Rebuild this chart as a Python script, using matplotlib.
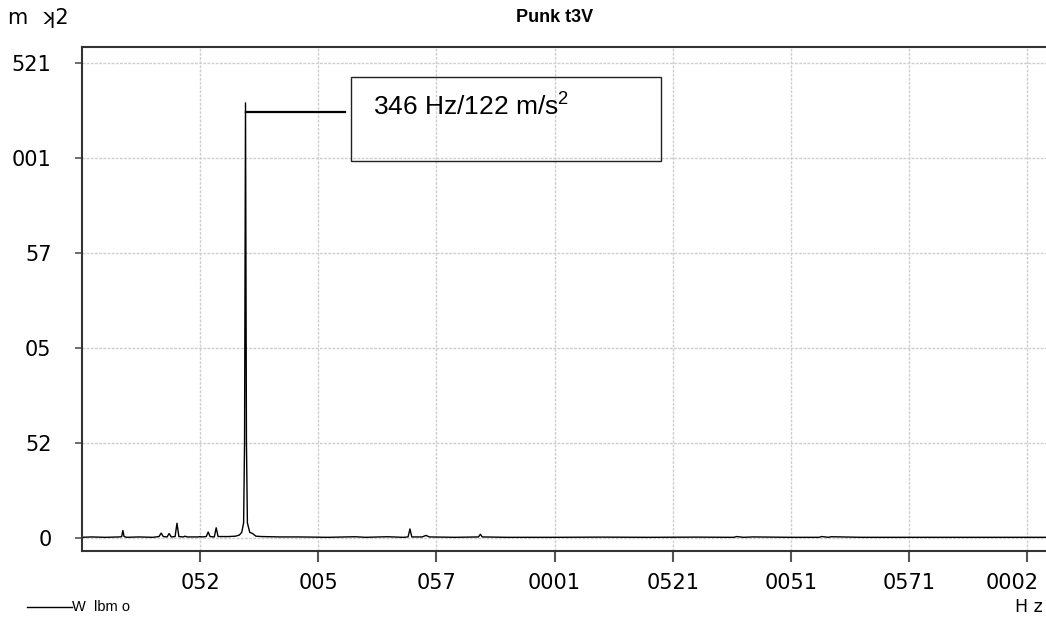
import numpy as np
import matplotlib.pyplot as plt
from matplotlib.patches import Rectangle
from matplotlib.lines import Line2D
from matplotlib.ticker import FuncFormatter
from matplotlib.transforms import ScaledTranslation

# spectrum (Hz, m/s^2)
freq = [0, 20, 50, 80, 84, 86.5, 89, 95, 120, 150, 163, 167.5, 172, 180, 184.4, 189,
        197, 201, 205, 214, 218, 222, 246, 250, 254, 263, 267, 271, 280, 284, 288,
        310, 325, 333, 338, 342, 344, 346, 348, 350, 355, 361, 368, 380, 420, 460,
        520, 578, 600, 646, 680, 690, 694, 698, 720, 728, 735, 790, 839, 843, 847,
        900, 1000, 1100, 1200, 1300, 1380, 1385, 1400, 1420, 1500, 1560, 1565, 1580,
        1585, 1650, 1750, 1850, 1950, 2040]
amp = [0.2, 0.3, 0.2, 0.3, 0.4, 2.0, 0.4, 0.2, 0.3, 0.2, 0.4, 1.3, 0.4, 0.3, 1.2, 0.3,
       0.4, 3.9, 0.4, 0.3, 0.5, 0.3, 0.3, 0.4, 0.3, 0.4, 1.6, 0.4, 0.3, 2.7, 0.4,
       0.4, 0.5, 0.8, 1.5, 4.0, 25.0, 114.5, 25.0, 4.0, 1.5, 1.2, 0.5, 0.4, 0.3, 0.3,
       0.2, 0.35, 0.2, 0.35, 0.2, 0.3, 2.4, 0.3, 0.3, 0.7, 0.3, 0.2, 0.3, 1.0, 0.3,
       0.2, 0.2, 0.25, 0.2, 0.25, 0.2, 0.4, 0.2, 0.3, 0.2, 0.2, 0.4, 0.2, 0.35, 0.2,
       0.2, 0.2, 0.2, 0.2]

x_ticks = [250, 500, 750, 1000, 1250, 1500, 1750, 2000]
y_ticks = [0, 25, 50, 75, 100, 125]

title = "Punk t3V"
y_unit = "m  ʞ2"
x_unit = "H z"
legend_text = "W  lbm o"
peak_label = "346 Hz/122 m/s$^{2}$"
peak_freq = 346
peak_mark = 112

plt.rcParams['mathtext.default'] = 'regular'

fig = plt.figure(figsize=(10.46, 6.24), dpi=100)
ax = fig.add_axes([82 / 1046, 73 / 624, 1 - 82 / 1046, 504 / 624])

ax.plot(freq, amp, color='black', linewidth=1.0)

ax.set_xlim(0, 2040)
ax.set_ylim(-3.4, 129.2)
ax.set_xticks(x_ticks)
ax.set_yticks(y_ticks)

# labels appear mirrored in the reference: digits reversed
rev = FuncFormatter(lambda v, p: str(int(round(v)))[::-1])
ax.xaxis.set_major_formatter(rev)
ax.yaxis.set_major_formatter(rev)

ax.grid(True, color='#cfcfcf', linestyle=(0, (2, 1)), linewidth=1.0)
ax.tick_params(axis='x', direction='out', length=8, width=1.5, color='#555555',
               labelsize=15, pad=8)
ax.tick_params(axis='y', direction='out', length=5, width=1.2, color='#555555',
               labelsize=15, pad=17)
for lab in ax.get_xticklabels() + ax.get_yticklabels():
    lab.set_family('DejaVu Sans')

for s in ['left', 'top', 'bottom']:
    ax.spines[s].set_color('#333333')
    ax.spines[s].set_linewidth(1.5)
ax.spines['right'].set_visible(False)

# peak annotation
ax.plot([peak_freq, 557], [peak_mark, peak_mark], color='black', linewidth=1.6)
fig.patches.append(Rectangle((351 / 1046, 1 - 161 / 624), 310 / 1046, 84 / 624,
                             transform=fig.transFigure, fill=False,
                             edgecolor='#222222', linewidth=1.0))
fig.text(373 / 1046, 1 - 107 / 624, peak_label, fontsize=19,
         family='Liberation Sans', va='center', ha='left')

# texts around the plot
fig.text(555 / 1046, 1 - 17 / 624, title, fontsize=13, fontweight='bold',
         family='Liberation Sans', ha='center', va='center')
fig.text(8 / 1046, 1 - 18 / 624, y_unit, fontsize=15, family='DejaVu Sans',
         ha='left', va='center')
fig.text(1043 / 1046, 1 - 607 / 624, x_unit, fontsize=12.5, family='DejaVu Sans',
         ha='right', va='center')

fig.lines.append(Line2D([27 / 1046, 72 / 1046], [1 - 607 / 624, 1 - 607 / 624],
                        transform=fig.transFigure, color='black', linewidth=1.0))
fig.text(72 / 1046, 1 - 607 / 624, legend_text, fontsize=10.5, family='Liberation Sans',
         ha='left', va='center')

# keep the last x label inside the picture, as in the reference
fig.canvas.draw()
last = ax.get_xticklabels()[-1]
last.set_transform(last.get_transform() + ScaledTranslation(-0.15, 0, fig.dpi_scale_trans))

fig.savefig('out.png', dpi=100)
